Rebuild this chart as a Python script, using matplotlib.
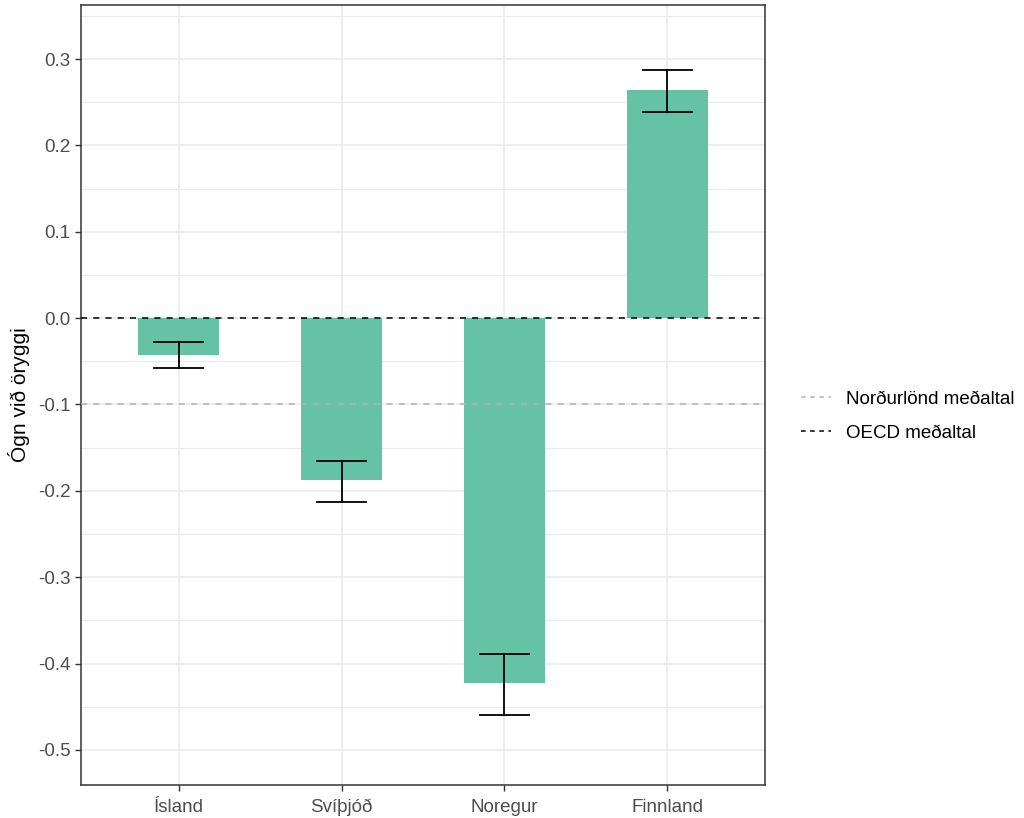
import matplotlib.pyplot as plt
from matplotlib.lines import Line2D
from matplotlib.ticker import MultipleLocator

plt.rcParams["font.family"] = ["Liberation Sans", "DejaVu Sans"]

countries = ["Ísland", "Svíþjóð", "Noregur", "Finnland"]
values = [-0.043, -0.187, -0.423, 0.264]
err_low = [-0.058, -0.213, -0.459, 0.239]
err_high = [-0.028, -0.165, -0.389, 0.287]
nordic_mean = -0.1
oecd_mean = 0.0

bar_color = "#66C2A5"
grid_color = "#EBEBEB"
text_color = "#4D4D4D"

fig = plt.figure(figsize=(10.24, 8.18), dpi=100)
ax = fig.add_axes([81 / 1024, 1 - 785 / 818, (765 - 81) / 1024, (785 - 5) / 818])

x = list(range(1, len(countries) + 1))
ax.bar(x, values, width=0.5, color=bar_color, zorder=2)

for xi, lo, hi in zip(x, err_low, err_high):
    ax.plot([xi, xi], [lo, hi], color="black", lw=1.3, zorder=3)
    ax.plot([xi - 0.15, xi + 0.15], [lo, lo], color="black", lw=1.3, zorder=3)
    ax.plot([xi - 0.15, xi + 0.15], [hi, hi], color="black", lw=1.3, zorder=3)

ax.axhline(nordic_mean, color="#B3B3B3", ls=(0, (4, 4)), lw=1.1, zorder=4)
ax.axhline(oecd_mean, color="black", ls=(0, (4, 4)), lw=1.1, zorder=4)

yticks = [-0.5, -0.4, -0.3, -0.2, -0.1, 0.0, 0.1, 0.2, 0.3]
ax.set_xlim(0.4, 4.6)
ax.set_ylim(-0.5406, 0.3626)
ax.yaxis.set_minor_locator(MultipleLocator(0.05))
ax.set_xticks(x)
ax.set_xticklabels(countries)
ax.set_yticks(yticks)
ax.set_yticklabels([f"{v:.1f}" for v in yticks])

ax.grid(which="major", color=grid_color, lw=1.2, zorder=0)
ax.grid(which="minor", axis="y", color=grid_color, lw=0.8, zorder=0)
ax.set_axisbelow(True)
ax.tick_params(which="major", direction="out", length=4, width=1, color="#333333",
               labelcolor=text_color, labelsize=13.5)
ax.tick_params(axis="x", pad=6)
ax.tick_params(which="minor", length=0)
for sp in ax.spines.values():
    sp.set_color("#333333")
    sp.set_linewidth(1.1)

ax.set_ylabel("Ógn við öryggi", fontsize=15, color="black", labelpad=6)

handles = [
    Line2D([], [], color="#B3B3B3", ls=(0, (3, 3)), lw=1.1),
    Line2D([], [], color="black", ls=(0, (3, 3)), lw=1.1),
]
fig.legend(handles, ["Norðurlönd meðaltal", "OECD meðaltal"],
           loc="center left", bbox_to_anchor=(784 / 1024, 1 - 416 / 818),
           frameon=False, fontsize=13.5, handlelength=1.6, labelspacing=0.9,
           handletextpad=0.8)

fig.savefig("out.png", dpi=100)
